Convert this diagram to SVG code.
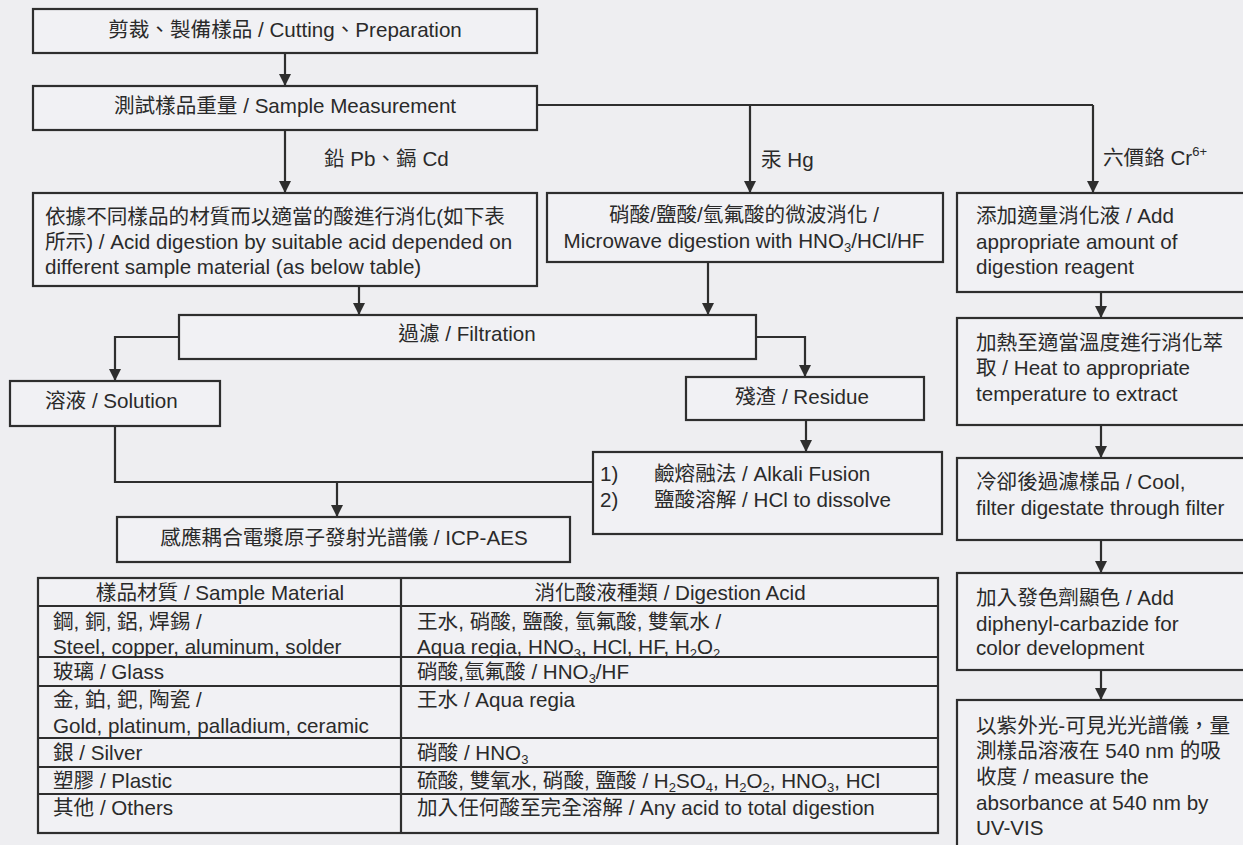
<svg xmlns="http://www.w3.org/2000/svg" width="1243" height="845" viewBox="0 0 1243 845">
<style>
.bx{fill:#f1f1f4;stroke:#2e2e2e;stroke-width:2.2}
.ln{fill:none;stroke:#2e2e2e;stroke-width:2.2}
.ar{fill:none;stroke:#2e2e2e;stroke-width:2.2;marker-end:url(#ah)}
text{font-family:"Liberation Sans","Noto Sans CJK TC",Arial,sans-serif;font-size:20.6px;fill:#2a2a2a}
.m{text-anchor:middle}
.s{font-size:13px}
</style>
<defs>
<marker id="ah" viewBox="0 0 12 12" refX="12" refY="6" markerWidth="12" markerHeight="12" markerUnits="userSpaceOnUse" orient="auto">
<path d="M0,0 L12,6 L0,12 Z" fill="#2e2e2e"/>
</marker>
</defs>
<rect width="1243" height="845" fill="#eeeef1"/>

<g id="connectors">
<path class="ar" d="M285,53 V86"/>
<path class="ar" d="M285,130 V193"/>
<path class="ln" d="M537,105 H1093"/>
<path class="ar" d="M750,105 V193"/>
<path class="ar" d="M1093,105 V193"/>
<path class="ar" d="M359,286 V315"/>
<path class="ar" d="M708,262 V315"/>
<path class="ar" d="M179,337 H115 V381"/>
<path class="ar" d="M756,337 H805 V377"/>
<path class="ar" d="M806,420 V452"/>
<path class="ln" d="M115,426 V482 H593"/>
<path class="ar" d="M337,482 V517"/>
<path class="ar" d="M1101,292 V318"/>
<path class="ar" d="M1101,425 V458"/>
<path class="ar" d="M1101,540 V573"/>
<path class="ar" d="M1101,670 V700"/>
</g>

<g id="labels">
<text x="324" y="166">鉛 Pb、鎘 Cd</text>
<text x="761" y="167">汞 Hg</text>
<text x="1103" y="165">六價鉻 Cr<tspan class="s" dy="-9">6+</tspan></text>
</g>

<g id="n-cutting">
<rect class="bx" x="33" y="9" width="504" height="44"/>
<text class="m" x="285" y="37">剪裁、製備樣品 / Cutting、Preparation</text>
</g>
<g id="n-measure">
<rect class="bx" x="33" y="86" width="504" height="44"/>
<text class="m" x="285" y="113">測試樣品重量 / Sample Measurement</text>
</g>
<g id="n-acid">
<rect class="bx" x="33" y="193" width="504" height="93"/>
<text x="45" y="224">依據不同樣品的材質而以適當的酸進行消化(如下表</text>
<text x="45" y="249">所示) / Acid digestion by suitable acid depended on</text>
<text x="45" y="274">different sample material (as below table)</text>
</g>
<g id="n-microwave">
<rect class="bx" x="547" y="193" width="396" height="69"/>
<text class="m" x="744" y="222">硝酸/鹽酸/氫氟酸的微波消化 /</text>
<text class="m" x="744" y="248">Microwave digestion with HNO<tspan class="s" dy="4">3</tspan><tspan dy="-4">/HCl/HF</tspan></text>
</g>
<g id="n-add">
<rect class="bx" x="957" y="193" width="300" height="99"/>
<text x="976" y="223">添加適量消化液 / Add</text>
<text x="976" y="249">appropriate amount of</text>
<text x="976" y="274">digestion reagent</text>
</g>
<g id="n-filtration">
<rect class="bx" x="179" y="315" width="577" height="44"/>
<text class="m" x="467" y="341">過濾 / Filtration</text>
</g>
<g id="n-solution">
<rect class="bx" x="10" y="381" width="210" height="45"/>
<text x="45" y="408">溶液 / Solution</text>
</g>
<g id="n-residue">
<rect class="bx" x="686" y="377" width="238" height="43"/>
<text x="735" y="404">殘渣 / Residue</text>
</g>
<g id="n-alkali">
<rect class="bx" x="593" y="452" width="349" height="82"/>
<text x="600" y="481">1)</text>
<text x="654" y="481">鹼熔融法 / Alkali Fusion</text>
<text x="600" y="507">2)</text>
<text x="654" y="507">鹽酸溶解 / HCl to dissolve</text>
</g>
<g id="n-icp">
<rect class="bx" x="117" y="517" width="453" height="45"/>
<text class="m" x="344" y="545">感應耦合電漿原子發射光譜儀 / ICP-AES</text>
</g>
<g id="n-heat">
<rect class="bx" x="957" y="318" width="300" height="107"/>
<text x="976" y="350">加熱至適當溫度進行消化萃</text>
<text x="976" y="375">取 / Heat to appropriate</text>
<text x="976" y="401">temperature to extract</text>
</g>
<g id="n-cool">
<rect class="bx" x="957" y="458" width="300" height="82"/>
<text x="976" y="489">冷卻後過濾樣品 / Cool,</text>
<text x="976" y="515">filter digestate through filter</text>
</g>
<g id="n-color">
<rect class="bx" x="957" y="573" width="300" height="97"/>
<text x="976" y="605">加入發色劑顯色 / Add</text>
<text x="976" y="631">diphenyl-carbazide for</text>
<text x="976" y="655">color development</text>
</g>
<g id="n-uvvis">
<rect class="bx" x="957" y="700" width="300" height="160"/>
<text x="976" y="733">以紫外光-可見光光譜儀，量</text>
<text x="976" y="758">測樣品溶液在 540 nm 的吸</text>
<text x="976" y="784">收度 / measure the</text>
<text x="976" y="810">absorbance at 540 nm by</text>
<text x="976" y="835">UV-VIS</text>
</g>

<g id="table">
<rect class="bx" x="38" y="578" width="900" height="255"/>
<path class="ln" d="M401,578 V833 M38,606 H938 M38,657 H938 M38,686 H938 M38,738 H938 M38,767 H938 M38,794 H938"/>
<text class="m" x="220" y="600">樣品材質 / Sample Material</text>
<text class="m" x="670" y="600">消化酸液種類 / Digestion Acid</text>
<text x="53" y="629">鋼, 銅, 鋁, 焊錫 /</text>
<text x="53" y="654">Steel, copper, aluminum, solder</text>
<text x="417" y="629">王水, 硝酸, 鹽酸, 氫氟酸, 雙氧水 /</text>
<text x="417" y="654">Aqua regia, HNO<tspan class="s" dy="4">3</tspan><tspan dy="-4">, HCl, HF, H</tspan><tspan class="s" dy="4">2</tspan><tspan dy="-4">O</tspan><tspan class="s" dy="4">2</tspan></text>
<text x="53" y="679">玻璃 / Glass</text>
<text x="417" y="679">硝酸,氫氟酸 / HNO<tspan class="s" dy="4">3</tspan><tspan dy="-4">/HF</tspan></text>
<text x="53" y="707">金, 鉑, 鈀, 陶瓷 /</text>
<text x="53" y="733">Gold, platinum, palladium, ceramic</text>
<text x="417" y="707">王水 / Aqua regia</text>
<text x="53" y="760">銀 / Silver</text>
<text x="417" y="760">硝酸 / HNO<tspan class="s" dy="4">3</tspan></text>
<text x="53" y="788">塑膠 / Plastic</text>
<text x="417" y="788">硫酸, 雙氧水, 硝酸, 鹽酸 /  H<tspan class="s" dy="4">2</tspan><tspan dy="-4">SO</tspan><tspan class="s" dy="4">4</tspan><tspan dy="-4">, H</tspan><tspan class="s" dy="4">2</tspan><tspan dy="-4">O</tspan><tspan class="s" dy="4">2</tspan><tspan dy="-4">, HNO</tspan><tspan class="s" dy="4">3</tspan><tspan dy="-4">, HCl</tspan></text>
<text x="53" y="815">其他 / Others</text>
<text x="417" y="815">加入任何酸至完全溶解 / Any acid to total digestion</text>
</g>
</svg>
